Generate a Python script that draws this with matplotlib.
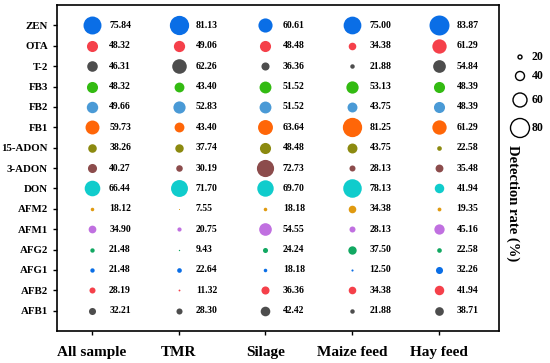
import matplotlib.pyplot as plt

toxins = ['ZEN', 'OTA', 'T-2', 'FB3', 'FB2', 'FB1', '15-ADON', '3-ADON',
          'DON', 'AFM2', 'AFM1', 'AFG2', 'AFG1', 'AFB2', 'AFB1']
groups = ['All sample', 'TMR', 'Silage', 'Maize feed', 'Hay feed']

all_sample = [75.84, 48.32, 46.31, 48.32, 49.66, 59.73, 38.26, 40.27,
              66.44, 18.12, 34.90, 21.48, 21.48, 28.19, 32.21]
tmr = [81.13, 49.06, 62.26, 43.40, 52.83, 43.40, 37.74, 30.19,
       71.70, 7.55, 20.75, 9.43, 22.64, 11.32, 28.30]
silage = [60.61, 48.48, 36.36, 51.52, 51.52, 63.64, 48.48, 72.73,
          69.70, 18.18, 54.55, 24.24, 18.18, 36.36, 42.42]
maize = [75.00, 34.38, 21.88, 53.13, 43.75, 81.25, 43.75, 28.13,
         78.13, 34.38, 28.13, 37.50, 12.50, 34.38, 21.88]
hay = [83.87, 61.29, 54.84, 48.39, 48.39, 61.29, 22.58, 35.48,
       41.94, 19.35, 45.16, 22.58, 32.26, 41.94, 38.71]

colors = ['#0a6ee6', '#f5404a', '#4d4d4d', '#33bb12', '#4a9ad6', '#ff6608',
          '#8c8a10', '#8c4c4c', '#10cccc', '#e09a10', '#c070e0', '#12a862',
          '#0a6ee6', '#f5404a', '#4d4d4d']

legend_vals = [20, 40, 60, 80]


def size_of(v):
    # marker diameter in points, roughly linear in the rate
    d = max(0.72 * (0.25 * v - 1), 0.5)
    return d


plt.rcParams['font.family'] = ['Liberation Serif', 'DejaVu Serif']
plt.rcParams['font.weight'] = 'bold'

fig = plt.figure(figsize=(5.5, 3.63), dpi=100)
ax = fig.add_axes([0.1036, 0.088, 0.8036, 0.898])

data = [all_sample, tmr, silage, maize, hay]
n = len(toxins)
for j, col in enumerate(data):
    for i, v in enumerate(col):
        y = n - 1 - i
        ax.scatter(j, y, s=size_of(v) ** 2, color=colors[i], linewidths=0, zorder=3)
        ax.text(j + 0.2, y, '%.2f' % v, fontsize=7, fontweight='bold',
                va='center', ha='left')

ax.set_xlim(-0.4, 4.69)
ax.set_ylim(-1, n)
ax.set_xticks(range(len(groups)))
ax.set_xticklabels(groups, fontsize=11, fontweight='bold')
ax.set_yticks(range(n))
ax.set_yticklabels(toxins[::-1], fontsize=7.8, fontweight='bold')
ax.tick_params(axis='both', length=3, width=1)
ax.tick_params(axis='x', pad=8)
for sp in ax.spines.values():
    sp.set_linewidth(1.2)

# size legend drawn by hand (rows spread with circle size)
lax = fig.add_axes([0, 0, 1, 1])
lax.set_xlim(0, 550)
lax.set_ylim(363, 0)
lax.axis('off')
leg_y = [57, 76, 100, 128]
for v, yy in zip(legend_vals, leg_y):
    lax.scatter(520, yy, s=size_of(v) ** 2, facecolors='none',
                edgecolors='black', linewidths=1.0)
    lax.text(532, yy, str(v), fontsize=8.5, fontweight='bold',
             va='center', ha='left')

fig.text(0.932, 0.44, 'Detection rate (%)', rotation=-90, fontsize=10.5,
         fontweight='bold', ha='center', va='center')

fig.savefig('out.png', dpi=100)
